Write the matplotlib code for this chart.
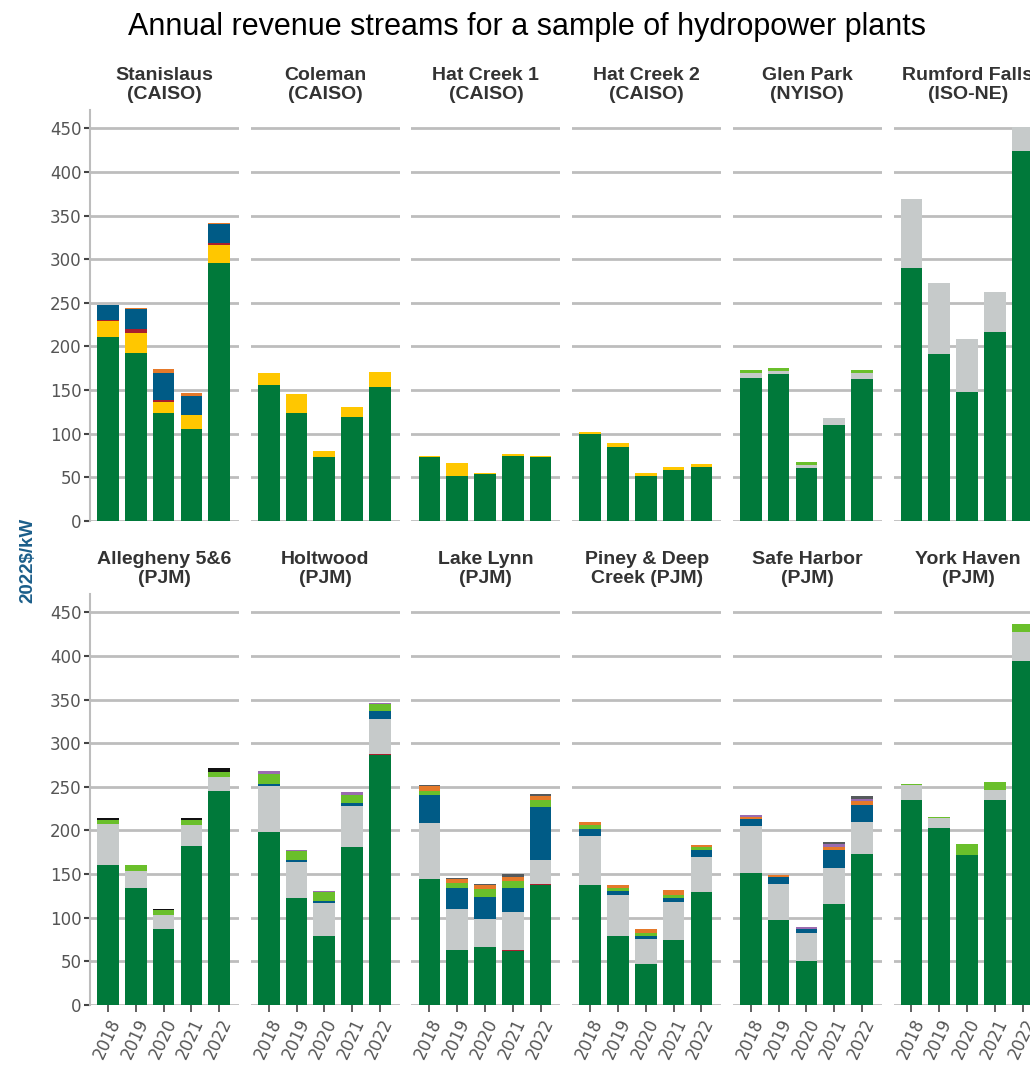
import numpy as np
import matplotlib.pyplot as plt

plants = ['Stanislaus\n(CAISO)', 'Coleman\n(CAISO)', 'Hat Creek 1\n(CAISO)',
          'Hat Creek 2\n(CAISO)', 'Glen Park\n(NYISO)', 'Rumford Falls\n(ISO-NE)',
          'Allegheny 5&6\n(PJM)', 'Holtwood\n(PJM)', 'Lake Lynn\n(PJM)',
          'Piney & Deep\nCreek (PJM)', 'Safe Harbor\n(PJM)', 'York Haven\n(PJM)']
years = ['2018', '2019', '2020', '2021', '2022']

# one row per plant, one value per year (2022$/kW), stacked bottom -> top
energy = [[211, 193, 124, 106, 296], [156, 124, 73, 119, 154], [73, 51, 54, 75, 73],
          [100, 85, 52, 59, 62], [164, 169, 61, 110, 163], [290, 191, 148, 217, 424],
          [160, 134, 87, 182, 245], [198, 123, 79, 181, 286], [144, 63, 66, 61.5, 137],
          [137, 79, 47, 74, 129], [151, 97, 50, 116, 173], [235, 203, 172, 235, 394]]
red_low = [[0]*5, [0]*5, [0]*5, [0]*5, [0]*5, [0]*5,
           [0]*5, [0, 0, 0, 0.6, 2], [0, 0, 0, 1.5, 2], [0]*5, [0, 0, 0, 0, 0.6], [0]*5]
capacity = [[0]*5, [0]*5, [0]*5, [0]*5, [6, 3, 3, 8, 7], [79, 82, 60, 46, 27],
            [47, 19.5, 16, 24, 16], [53, 41, 38, 46, 40], [64, 47, 32, 44, 27],
            [57, 47, 29, 44, 41], [54, 42, 32, 41, 36], [17, 11, 0, 11, 34]]
yellow = [[18, 22, 12, 15, 20], [14, 21, 7, 12, 17], [2, 16, 1.5, 1.5, 1.5],
          [2.5, 4, 2.5, 3, 3.5], [0]*5, [0]*5, [0]*5, [0]*5, [0]*5, [0]*5, [0]*5, [0]*5]
red_high = [[1, 5, 3, 0.5, 3]] + [[0]*5 for _ in range(11)]
blue = [[17, 23, 31, 22, 21], [0]*5, [0]*5, [0]*5, [0]*5, [0]*5,
        [0]*5, [2.2, 2.3, 2, 3.5, 8.4], [32.5, 24, 25.6, 26.8, 61.3],
        [7.3, 4.2, 3.5, 4.2, 7.7], [8, 7.7, 5.4, 20.3, 19.4], [0]*5]
light_green = [[0]*5, [0]*5, [0]*5, [0]*5, [2.7, 3.8, 3.4, 0, 3.5], [0]*5,
               [5.3, 6.5, 6, 5.8, 6.2], [11, 10, 10.5, 9.5, 8.4], [5.3, 5.7, 9.5, 8.7, 7.7],
               [4.6, 4.1, 3.5, 3.5, 3.5], [0]*5, [1, 1, 12.6, 10, 9]]
orange = [[0.5, 1, 4, 2.7, 2], [0]*5, [0]*5, [0]*5, [0]*5, [0]*5,
          [0]*5, [0]*5, [5.3, 4.3, 4.5, 4.7, 4.6], [3.4, 3.5, 4.2, 5.7, 2.2],
          [2.6, 2.2, 0, 3.8, 4.3], [0]*5]
purple = [[0]*5, [0]*5, [0]*5, [0]*5, [0]*5, [0]*5,
          [0]*5, [3.4, 1.6, 1, 3, 1.5], [0]*5, [0]*5, [2, 0, 1.8, 3.1, 3], [0]*5]
dark_gray = [[0]*5, [0]*5, [0]*5, [0]*5, [0]*5, [0]*5,
             [0]*5, [0]*5, [1, 1, 1, 2.6, 1.9], [0]*5, [0, 0, 0, 2.2, 3], [0]*5]
black = [[0]*5, [0]*5, [0]*5, [0]*5, [0]*5, [0]*5,
         [2.3, 0, 0.8, 2.2, 4.4], [0]*5, [0]*5, [0]*5, [0]*5, [0]*5]

series = [(energy, '#00793A'), (red_low, '#A81E2D'), (capacity, '#C6CACA'),
          (yellow, '#FFC700'), (red_high, '#A81E2D'), (blue, '#005B86'),
          (light_green, '#6ABF2B'), (orange, '#E5792A'), (purple, '#9A6BB0'),
          (dark_gray, '#555A5C'), (black, '#111111')]

W, H = 1030, 1065
fig = plt.figure(figsize=(W / 100, H / 100), dpi=100)

fig.text(527 / W, 1 - 27 / H, 'Annual revenue streams for a sample of hydropower plants',
         ha='center', va='center', fontsize=22, family='Liberation Sans')
fig.text(28 / W, 1 - 560 / H, '2022$/kW', rotation=90, ha='center', va='center',
         fontsize=13.5, fontweight='bold', color='#1B5E8A', family='Liberation Sans')

x = np.arange(len(years))
for i, plant in enumerate(plants):
    row, col = divmod(i, 6)
    left = 90 + 160.7 * col
    bottom = 521 if row == 0 else 1005
    ax = fig.add_axes([left / W, (H - bottom) / H, 149 / W, 411 / H])

    base = np.zeros(len(years))
    for vals, color in series:
        v = np.array(vals[i], dtype=float)
        ax.bar(x, v, width=0.78, bottom=base, color=color, zorder=3)
        base += v

    ax.set_xlim(-0.647, 4.71)
    ax.set_ylim(0, 471)
    ax.set_yticks(range(0, 451, 50))
    ax.grid(axis='y', color='#BDBDBD', linewidth=2, zorder=0)
    ax.set_axisbelow(True)
    for s in ['top', 'right', 'bottom', 'left']:
        ax.spines[s].set_visible(False)

    ax.set_title(plant, fontsize=14, fontweight='bold', color='#333333',
                 family='Liberation Sans', pad=8, linespacing=1.15)

    if col == 0:
        ax.spines['left'].set_visible(True)
        ax.spines['left'].set_color('#BDBDBD')
        ax.spines['left'].set_linewidth(1.5)
        ax.tick_params(axis='y', length=4, width=1.5, color='#444444',
                       labelsize=12, labelcolor='#555555', pad=2)
    else:
        ax.tick_params(axis='y', length=0, labelleft=False)

    ax.set_xticks(x)
    if row == 1:
        ax.set_xticklabels(years, rotation=65, ha='right', va='top',
                           rotation_mode='anchor', fontsize=12, color='#555555')
        ax.tick_params(axis='x', length=5, width=1.2, color='#444444', pad=3)
    else:
        ax.tick_params(axis='x', length=0, labelbottom=False)

fig.savefig('out.png', dpi=100)
